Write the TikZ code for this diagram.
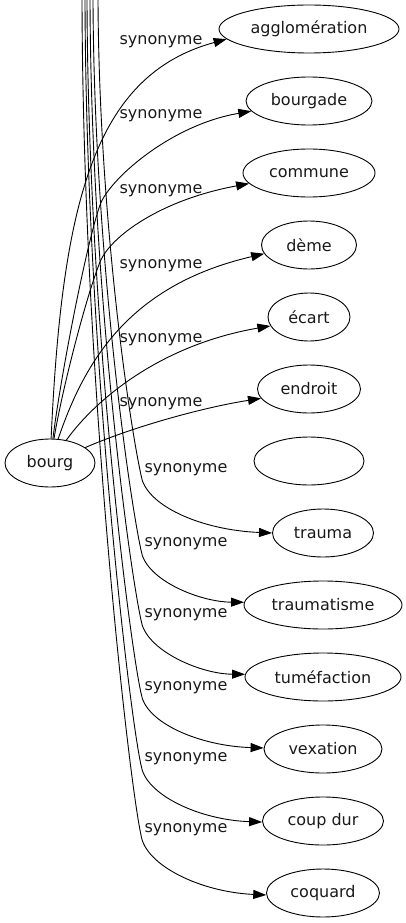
\documentclass[tikz,border=0pt]{standalone}
\usepackage{fontspec}
\setmainfont{DejaVu Sans}
\usetikzlibrary{shapes.geometric,arrows.meta}
\begin{document}
\begin{tikzpicture}[x=1pt,y=-1pt,
  word/.style={draw, ellipse, minimum height=48pt, inner sep=0pt, line width=0.9pt,
    font=\fontsize{16}{19}\selectfont, text=black!90},
  syn/.style={font=\fontsize{16}{19}\selectfont, text=black!90, inner sep=0pt},
  link/.style={draw, line width=0.9pt, -{Triangle[length=13pt,width=9pt]}}
]
\useasboundingbox (0,0) rectangle (405,923);

% source
\node[word, minimum width=90pt] (bourg) at (50,463) {bourg};

% targets (upper group)
\node[word, minimum width=180pt] (agglo) at (309,29) {agglomération};
\node[word, minimum width=126pt] (bourgade) at (309,101) {bourgade};
\node[word, minimum width=132pt] (commune) at (309,173) {commune};
\node[word, minimum width=95pt] (deme) at (309,245) {dème};
\node[word, minimum width=82pt] (ecart) at (309,317) {écart};
\node[word, minimum width=103pt] (endroit) at (309,389) {endroit};
\node[word, minimum width=110pt] (empty) at (309,461) {};

% targets (lower group)
\node[word, minimum width=101pt] (trauma) at (323,533) {trauma};
\node[word, minimum width=158pt] (traumatisme) at (323,605) {traumatisme};
\node[word, minimum width=156pt] (tumefaction) at (323,677) {tuméfaction};
\node[word, minimum width=118pt] (vexation) at (323,749) {vexation};
\node[word, minimum width=121pt] (coupdur) at (323,821) {coup dur};
\node[word, minimum width=113pt] (coquard) at (323,893) {coquard};

% free ends of the edges entering from the top
\coordinate (s1) at (98,0);
\coordinate (s2) at (93,0);
\coordinate (s3) at (90,0);
\coordinate (s4) at (87,0);
\coordinate (s5) at (85,0);
\coordinate (s6) at (82,0);

% upper edges
\draw[link] (bourg) .. controls (62,200) and (95,75) .. (agglo.187);
\draw[link] (bourg) .. controls (60,380) and (86,245) .. (100,205)
  .. controls (108.75,180) and (170,125) .. (bourgade.190);
\draw[link] (bourg) .. controls (62,390) and (86,297) .. (100,262)
  .. controls (110,237) and (160,200) .. (commune.190);
\draw[link] (bourg) .. controls (85,360) and (130,285) .. (deme.191);
\draw[link] (bourg) .. controls (95,400) and (160,345) .. (ecart.193);
\draw[link] (bourg) .. controls (130,428) and (200,408) .. (endroit.191);

% lower edges
\draw[link] (s1) .. controls (99,211) and (128,415) .. (141,475)
  .. controls (145,505) and (200,530) .. (trauma.180);
\draw[link] (s2) .. controls (94,245) and (128,490) .. (141,550)
  .. controls (145,580) and (200,602) .. (traumatisme.178);
\draw[link] (s3) .. controls (91,280) and (128,560) .. (141,620)
  .. controls (145,650) and (200,674) .. (tumefaction.178);
\draw[link] (s4) .. controls (88,310) and (128,633) .. (141,693)
  .. controls (145,723) and (200,746) .. (vexation.179);
\draw[link] (s5) .. controls (86,340) and (128,705) .. (141,765)
  .. controls (145,795) and (200,820) .. (coupdur.181);
\draw[link] (s6) .. controls (83,373) and (128,775) .. (141,835)
  .. controls (145,865) and (200,892) .. (coquard.182);

% edge labels
\node[syn] (l1) at (161,42) {synonyme};
\node[syn] (l2) at (161,116) {synonyme};
\node[syn] (l3) at (161,191) {synonyme};
\node[syn] (l4) at (161,266) {synonyme};
\node[syn] (l5) at (161,340) {synonyme};
\node[syn] (l6) at (161,404) {synonyme};
\node[syn] (l7) at (186,470) {synonyme};
\node[syn] (l8) at (186,544) {synonyme};
\node[syn] (l9) at (186,615) {synonyme};
\node[syn] (l10) at (186,688) {synonyme};
\node[syn] (l11) at (186,759) {synonyme};
\node[syn] (l12) at (186,830) {synonyme};
\end{tikzpicture}
\end{document}
